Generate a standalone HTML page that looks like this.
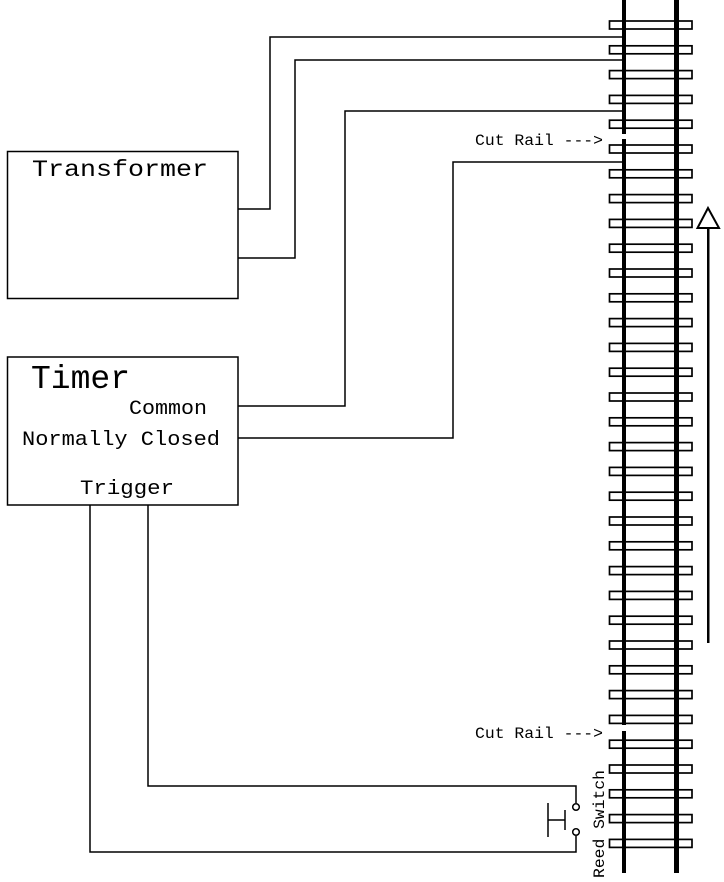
<!DOCTYPE html>
<html><head><meta charset="utf-8"><style>html,body{margin:0;padding:0;background:#fff}svg{display:block}</style></head>
<body>
<svg width="724" height="882" viewBox="0 0 724 882" xmlns="http://www.w3.org/2000/svg" font-family="Liberation Mono, monospace">
<g fill="none" stroke="#000" stroke-width="1.5">
<rect x="7.5" y="151.5" width="230.5" height="147"/>
<rect x="7.5" y="357" width="230.5" height="148"/>
<polyline points="238,209 270,209 270,37 622,37"/>
<polyline points="238,258 295,258 295,60 622,60"/>
<polyline points="238,406 345,406 345,111 622,111"/>
<polyline points="238,438 453,438 453,162 622,162"/>
<polyline points="148,505 148,786 576,786 576,803"/>
<polyline points="90,505 90,852 576,852 576,836"/>
<circle cx="576" cy="807" r="3.3"/>
<circle cx="576" cy="832" r="3.3"/>
<line x1="548" y1="803" x2="548" y2="837"/>
<line x1="548" y1="820" x2="565" y2="820"/>
<line x1="565" y1="810" x2="565" y2="830"/>
</g>
<g fill="#fff" stroke="#000" stroke-width="1.7">
<rect x="609.5" y="21" width="82.5" height="8"/><rect x="609.5" y="45.8" width="82.5" height="8"/><rect x="609.5" y="70.6" width="82.5" height="8"/><rect x="609.5" y="95.4" width="82.5" height="8"/><rect x="609.5" y="120.2" width="82.5" height="8"/><rect x="609.5" y="145" width="82.5" height="8"/><rect x="609.5" y="169.8" width="82.5" height="8"/><rect x="609.5" y="194.6" width="82.5" height="8"/><rect x="609.5" y="219.4" width="82.5" height="8"/><rect x="609.5" y="244.2" width="82.5" height="8"/><rect x="609.5" y="269" width="82.5" height="8"/><rect x="609.5" y="293.8" width="82.5" height="8"/><rect x="609.5" y="318.6" width="82.5" height="8"/><rect x="609.5" y="343.4" width="82.5" height="8"/><rect x="609.5" y="368.2" width="82.5" height="8"/><rect x="609.5" y="393" width="82.5" height="8"/><rect x="609.5" y="417.8" width="82.5" height="8"/><rect x="609.5" y="442.6" width="82.5" height="8"/><rect x="609.5" y="467.4" width="82.5" height="8"/><rect x="609.5" y="492.2" width="82.5" height="8"/><rect x="609.5" y="517" width="82.5" height="8"/><rect x="609.5" y="541.8" width="82.5" height="8"/><rect x="609.5" y="566.6" width="82.5" height="8"/><rect x="609.5" y="591.4" width="82.5" height="8"/><rect x="609.5" y="616.2" width="82.5" height="8"/><rect x="609.5" y="641" width="82.5" height="8"/><rect x="609.5" y="665.8" width="82.5" height="8"/><rect x="609.5" y="690.6" width="82.5" height="8"/><rect x="609.5" y="715.4" width="82.5" height="8"/><rect x="609.5" y="740.2" width="82.5" height="8"/><rect x="609.5" y="765" width="82.5" height="8"/><rect x="609.5" y="789.8" width="82.5" height="8"/><rect x="609.5" y="814.6" width="82.5" height="8"/><rect x="609.5" y="839.4" width="82.5" height="8"/>
</g>
<g fill="#000">
<rect x="622" y="0" width="4" height="134"/>
<rect x="622" y="139" width="4" height="586"/>
<rect x="622" y="731" width="4" height="142"/>
<rect x="674" y="0" width="5" height="873"/>
<rect x="707" y="226" width="2.5" height="417"/>
</g>
<polygon points="708,208 697.5,228 719,228" fill="#fff" stroke="#000" stroke-width="2"/>
<g fill="#000">
<text x="32" y="176" font-size="23" textLength="176" lengthAdjust="spacingAndGlyphs">Transformer</text>
<text x="31" y="388" font-size="33" textLength="99" lengthAdjust="spacingAndGlyphs">Timer</text>
<text x="129" y="414" font-size="20" textLength="78" lengthAdjust="spacingAndGlyphs">Common</text>
<text x="22" y="445" font-size="20" textLength="198" lengthAdjust="spacingAndGlyphs">Normally Closed</text>
<text x="80" y="494" font-size="20" textLength="94" lengthAdjust="spacingAndGlyphs">Trigger</text>
<text x="475" y="145" font-size="16" textLength="128" lengthAdjust="spacingAndGlyphs">Cut Rail ---&gt;</text>
<text x="475" y="738" font-size="16" textLength="128" lengthAdjust="spacingAndGlyphs">Cut Rail ---&gt;</text>
<text transform="translate(604,878) rotate(-90)" font-size="16" textLength="108" lengthAdjust="spacingAndGlyphs">Reed Switch</text>
</g>
</svg>
</body></html>
